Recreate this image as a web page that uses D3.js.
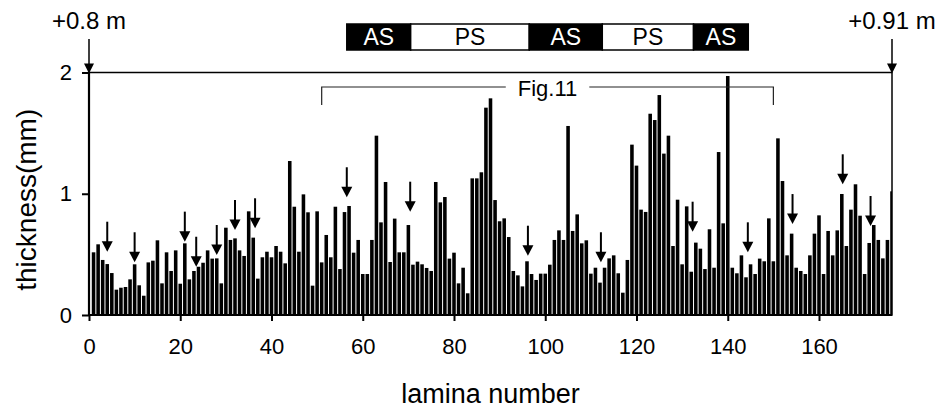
<!DOCTYPE html>
<html>
<head>
<meta charset="utf-8">
<script src="https://cdn.jsdelivr.net/npm/d3@7"></script>
<style>
    body { margin: 0; background: #fff; }
    text { font-family: "Liberation Sans", Arial, sans-serif; fill: #000; }
</style>
</head>
<body>
<div id="chart"></div>
<script>
// lamina numbers 1..176 and measured thickness (mm)
var lamina = d3.range(1, 177);
var thickness = [
    0.517, 0.583, 0.454, 0.420, 0.346, 0.209, 0.225, 0.231, 0.294, 0.418,
    0.245, 0.159, 0.434, 0.448, 0.616, 0.261, 0.517, 0.363, 0.533, 0.258,
    0.591, 0.294, 0.363, 0.398, 0.431, 0.533, 0.465, 0.467, 0.261, 0.720,
    0.619, 0.632, 0.533, 0.487, 0.855, 0.638, 0.300, 0.476, 0.522, 0.476,
    0.569, 0.522, 0.426, 1.270, 0.893, 0.522, 0.995, 0.847, 0.242, 0.855,
    0.434, 0.660, 0.476, 0.893, 0.379, 0.849, 0.899, 0.514, 0.619, 0.338,
    0.338, 0.619, 1.479, 0.764, 1.097, 0.437, 0.795, 0.517, 0.517, 0.742,
    0.415, 0.440, 0.418, 0.388, 0.363, 1.097, 0.929, 0.973, 0.465, 0.514,
    0.261, 0.390, 0.179, 1.127, 1.127, 1.177, 1.710, 1.787, 0.948, 0.773,
    0.797, 0.643, 0.363, 0.327, 0.236, 0.443, 0.338, 0.289, 0.341, 0.341,
    0.415, 0.619, 0.698, 0.619, 1.559, 0.693, 0.830, 0.591, 0.616, 0.341,
    0.390, 0.267, 0.390, 0.467, 0.492, 0.344, 0.184, 0.454, 1.405, 1.232,
    0.869, 0.850, 1.660, 1.608, 1.814, 1.331, 1.479, 0.569, 0.951, 0.418,
    0.896, 0.357, 0.597, 0.547, 0.379, 0.707, 0.390, 1.344, 0.756, 1.971,
    0.390, 0.344, 0.492, 0.311, 0.418, 0.338, 0.465, 0.443, 0.797, 0.443,
    1.457, 1.105, 0.492, 0.671, 0.390, 0.363, 0.338, 0.492, 0.671, 0.822,
    0.338, 0.693, 0.492, 0.698, 0.998, 0.569, 0.869, 1.078, 0.819, 0.338,
    0.594, 0.742, 0.619, 0.467, 0.619, 1.020
];

// arrows marking laminae (position, thickness at arrow tip)
var arrowPos = [4, 10, 21, 23.5, 28, 32, 36.4, 56.5, 70.4, 96.2, 112.2, 132.3, 144.4, 154.2, 165.2, 171.3];
var arrowTip = [0.522, 0.435, 0.605, 0.398, 0.495, 0.701, 0.715, 0.971, 0.852, 0.489, 0.435, 0.687, 0.517, 0.750, 1.078, 0.734];

// AS / PS stage bar on top
var stageBounds = [56.5, 70.5, 96.5, 112.5, 132.5, 144.5];
var stageLabels = ["AS", "PS", "AS", "PS", "AS"];

// Fig.11 bracket
var figRange = [51, 150];
var figLabel = "Fig.11";

// depth markers
var depthPos = [0, 176];
var depthLabels = ["+0.8 m", "+0.91 m"];

var xTicks = [0, 20, 40, 60, 80, 100, 120, 140, 160];
var yTicks = [0, 1, 2];

var margin = { top: 72.5, right: 48, bottom: 93, left: 89 };
var width = 940 - margin.left - margin.right;
var height = 408 - margin.top - margin.bottom;

var svg = d3.select("#chart").append("svg")
    .attr("width", 940)
    .attr("height", 408);

var x = d3.scaleLinear().domain([0, 176]).range([0, width]);
var y = d3.scaleLinear().domain([0, 2]).range([height, 0]);

svg.append("defs").append("clipPath")
    .attr("id", "clip")
    .append("rect")
    .attr("width", width)
    .attr("height", height);

var g = svg.append("g")
    .attr("transform", "translate(" + margin.left + "," + margin.top + ")");

// bars
var bw = (x(1) - x(0)) * 0.78;
g.append("g")
    .attr("clip-path", "url(#clip)")
    .selectAll("rect")
    .data(thickness)
    .enter().append("rect")
    .attr("x", function(d, i) { return x(lamina[i]) - bw / 2; })
    .attr("y", function(d) { return y(d); })
    .attr("width", bw)
    .attr("height", function(d) { return height - y(d); })
    .attr("fill", "#000");

// frame
g.append("rect")
    .attr("width", width)
    .attr("height", height)
    .attr("fill", "none")
    .attr("stroke", "#000")
    .attr("stroke-width", 1.5);

// axes
var xAxis = d3.axisBottom(x).tickValues(xTicks).tickFormat(d3.format("d")).tickSize(6).tickPadding(17);
var yAxis = d3.axisLeft(y).tickValues(yTicks).tickFormat(d3.format("d")).tickSize(7).tickPadding(10);

var gx = g.append("g")
    .attr("transform", "translate(0," + height + ")")
    .call(xAxis);
var gy = g.append("g").call(yAxis);

[gx, gy].forEach(function(a) {
    a.select(".domain").remove();
    a.selectAll("line").attr("stroke", "#000").attr("stroke-width", 2);
    a.selectAll("text")
        .attr("font-size", 22)
        .attr("font-family", "Liberation Sans, Arial, sans-serif");
});

g.append("line")
    .attr("x1", 0).attr("x2", 0)
    .attr("y1", -1).attr("y2", height + 1)
    .attr("stroke", "#000").attr("stroke-width", 2.2);
g.append("line")
    .attr("x1", 0).attr("x2", width)
    .attr("y1", height).attr("y2", height)
    .attr("stroke", "#000").attr("stroke-width", 2.2);

// axis titles
svg.append("text")
    .attr("x", margin.left + width / 2)
    .attr("y", 403)
    .attr("text-anchor", "middle")
    .attr("font-size", 27)
    .text("lamina number");

svg.append("text")
    .attr("transform", "translate(36," + (margin.top + height / 2 + 6) + ") rotate(-90)")
    .attr("text-anchor", "middle")
    .attr("font-size", 28)
    .text("thickness(mm)");

// arrows above bars
var arrows = g.selectAll(".arrow")
    .data(arrowPos)
    .enter().append("g")
    .attr("class", "arrow")
    .attr("transform", function(d, i) { return "translate(" + x(d) + "," + y(arrowTip[i]) + ")"; });
arrows.append("line")
    .attr("x1", 0).attr("x2", 0)
    .attr("y1", -30).attr("y2", -9)
    .attr("stroke", "#000").attr("stroke-width", 2);
arrows.append("path")
    .attr("d", "M-5.5,-10.5L5.5,-10.5L0,0Z")
    .attr("fill", "#000");

// Fig.11 bracket
var bx0 = x(figRange[0]), bx1 = x(figRange[1]);
var bmid = (bx0 + bx1) / 2;
var figText = g.append("text")
    .attr("x", bmid)
    .attr("y", 96 - margin.top)
    .attr("text-anchor", "middle")
    .attr("font-size", 22)
    .text(figLabel);
var tw = figText.node().getComputedTextLength();
var by = 87 - margin.top, bt = 105 - margin.top;
g.append("path")
    .attr("d", "M" + bx0 + "," + bt + "V" + by + "H" + (bmid - tw / 2 - 12) +
        "M" + (bmid + tw / 2 + 12) + "," + by + "H" + bx1 + "V" + bt)
    .attr("fill", "none")
    .attr("stroke", "#222")
    .attr("stroke-width", 1.2);

// depth markers
var depth = g.selectAll(".depth")
    .data(depthPos)
    .enter().append("g")
    .attr("class", "depth")
    .attr("transform", function(d) { return "translate(" + x(d) + ",0)"; });
depth.append("text")
    .attr("y", 29 - margin.top)
    .attr("text-anchor", "middle")
    .attr("font-size", 24)
    .text(function(d, i) { return depthLabels[i]; });
depth.append("line")
    .attr("x1", 0).attr("x2", 0)
    .attr("y1", 39 - margin.top).attr("y2", -8)
    .attr("stroke", "#000").attr("stroke-width", 1.5);
depth.append("path")
    .attr("d", "M-5,-9L5,-9L0,1Z")
    .attr("fill", "#000");

// AS / PS stage bar
var stages = g.selectAll(".stage")
    .data(stageLabels)
    .enter().append("g")
    .attr("class", "stage");
stages.append("rect")
    .attr("x", function(d, i) { return x(stageBounds[i]); })
    .attr("y", 24 - margin.top)
    .attr("width", function(d, i) { return x(stageBounds[i + 1]) - x(stageBounds[i]); })
    .attr("height", 26)
    .attr("fill", function(d) { return d === "AS" ? "#000" : "#fff"; })
    .attr("stroke", "#000")
    .attr("stroke-width", 1.5);
stages.append("text")
    .attr("x", function(d, i) { return (x(stageBounds[i]) + x(stageBounds[i + 1])) / 2; })
    .attr("y", 45 - margin.top)
    .attr("text-anchor", "middle")
    .attr("font-size", 23)
    .style("fill", function(d) { return d === "AS" ? "#fff" : "#000"; })
    .text(function(d) { return d; });
</script>
</body>
</html>
